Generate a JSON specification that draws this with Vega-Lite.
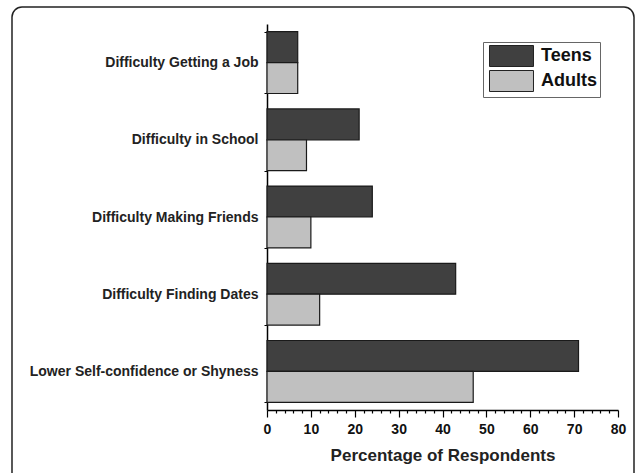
{
  "$schema": "https://vega.github.io/schema/vega-lite/v6.json",
  "width": 622,
  "height": 478,
  "autosize": {"type": "none"},
  "padding": {"left": 12, "top": 7, "right": 3, "bottom": -12},
  "background": "white",
  "config": {
    "view": {"stroke": "#222222", "strokeWidth": 1.5, "cornerRadius": 10, "fill": "white"},
    "font": "Liberation Sans"
  },
  "data": {
    "values": [
      {"problem": "Difficulty Getting a Job", "group": "Teens", "pct": 7},
      {"problem": "Difficulty Getting a Job", "group": "Adults", "pct": 7},
      {"problem": "Difficulty in School", "group": "Teens", "pct": 21},
      {"problem": "Difficulty in School", "group": "Adults", "pct": 9},
      {"problem": "Difficulty Making Friends", "group": "Teens", "pct": 24},
      {"problem": "Difficulty Making Friends", "group": "Adults", "pct": 10},
      {"problem": "Difficulty Finding Dates", "group": "Teens", "pct": 43},
      {"problem": "Difficulty Finding Dates", "group": "Adults", "pct": 12},
      {"problem": "Lower Self-confidence or Shyness", "group": "Teens", "pct": 71},
      {"problem": "Lower Self-confidence or Shyness", "group": "Adults", "pct": 47}
    ]
  },
  "mark": {"type": "bar", "stroke": "#1a1a1a", "strokeWidth": 1.2},
  "encoding": {
    "y": {
      "field": "problem",
      "type": "nominal",
      "sort": ["Difficulty Getting a Job", "Difficulty in School", "Difficulty Making Friends", "Difficulty Finding Dates", "Lower Self-confidence or Shyness"],
      "scale": {"range": [17, 403], "paddingInner": 0.2, "paddingOuter": 0.1},
      "axis": {
        "title": null,
        "offset": -255,
        "tickBand": "extent",
        "tickSize": 3,
        "tickColor": "black",
        "domainColor": "black",
        "domainWidth": 1.5,
        "labelFont": "Liberation Sans",
        "labelFontWeight": "bold",
        "labelFontSize": 14,
        "labelColor": "#222222",
        "labelPadding": 6,
        "labelLimit": 300,
        "grid": false
      }
    },
    "yOffset": {
      "field": "group",
      "sort": ["Teens", "Adults"],
      "scale": {"paddingInner": 0, "paddingOuter": 0}
    },
    "x": {
      "field": "pct",
      "type": "quantitative",
      "scale": {"domain": [0, 80], "range": [255, 606], "nice": false},
      "axis": {
        "title": "Percentage of Respondents",
        "values": [0, 2, 4, 6, 8, 10, 12, 14, 16, 18, 20, 22, 24, 26, 28, 30, 32, 34, 36, 38, 40, 42, 44, 46, 48, 50, 52, 54, 56, 58, 60, 62, 64, 66, 68, 70, 72, 74, 76, 78, 80],
        "labelExpr": "datum.value % 10 === 0 ? datum.label : ''",
        "labelOverlap": false,
        "labelFlush": false,
        "labelBound": false,
        "tickSize": {"condition": {"test": "datum.value % 10 === 0", "value": 7}, "value": 3},
        "offset": -75,
        "grid": false,
        "domainColor": "black",
        "domainWidth": 1.5,
        "tickColor": "black",
        "tickWidth": 1.2,
        "labelFont": "Liberation Sans",
        "labelFontWeight": "bold",
        "labelFontSize": 14,
        "labelColor": "#111111",
        "labelPadding": 5,
        "titleFont": "Liberation Sans",
        "titleFontSize": 17,
        "titleFontWeight": "bold",
        "titleColor": "#222222",
        "titlePadding": 11
      }
    },
    "color": {
      "field": "group",
      "type": "nominal",
      "scale": {"domain": ["Teens", "Adults"], "range": ["#404040", "#c0c0c0"]},
      "legend": {
        "title": null,
        "orient": "none",
        "legendX": 471,
        "legendY": 35,
        "symbolType": "M-2.095,-1H2.095V1H-2.095Z",
        "symbolSize": 441,
        "symbolOffset": 14.5,
        "symbolStrokeColor": "#222222",
        "symbolStrokeWidth": 1,
        "symbolOpacity": 1,
        "labelFont": "Liberation Sans",
        "labelFontWeight": "bold",
        "labelFontSize": 18,
        "labelColor": "#111111",
        "labelOffset": 18.5,
        "strokeColor": "#666666",
        "fillColor": "white",
        "padding": 3,
        "rowPadding": -1
      }
    }
  }
}
